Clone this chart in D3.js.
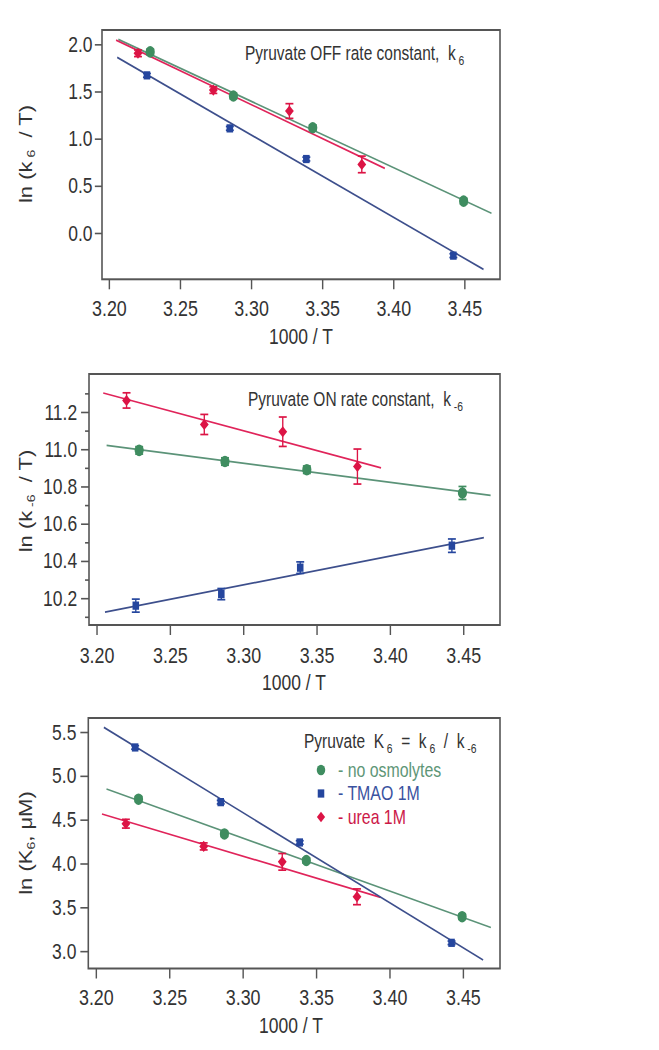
<!DOCTYPE html>
<html><head><meta charset="utf-8">
<script src="https://cdn.jsdelivr.net/npm/d3@7"></script>
<style>
body{margin:0;background:#fff}
svg{display:block}
text{font-family:"Liberation Sans",Arial,Helvetica,sans-serif;fill:#333;white-space:pre}
</style>
</head><body>
<svg id="chart" width="659" height="1050"></svg>
<script>
// ---------- data ----------
const xTicks = [3.20, 3.25, 3.30, 3.35, 3.40, 3.45];
const xGreen = [3.229, 3.2875, 3.3433, 3.4494];
const xBlue  = [3.2267, 3.2850, 3.3388, 3.4422];
const xRed   = [3.2204, 3.2734, 3.3269, 3.3778];

// panel 1: ln(k6/T)
const offGreen = [1.920, 1.452, 1.116, 0.338];
const offGreenErr = [0.03, 0.03, 0.03, 0.03];
const offBlue = [1.671, 1.109, 0.784, -0.240];
const offBlueErr = [0.02, 0.02, 0.02, 0.02];
const offRed = [1.905, 1.515, 1.293, 0.727];
const offRedErr = [0.035, 0.035, 0.078, 0.088];
const offGreenFit = [[3.2066, 2.053], [3.469, 0.209]];
const offBlueFit  = [[3.2058, 1.862], [3.4634, -0.386]];
const offRedFit   = [[3.2050, 2.045], [3.394, 0.685]];
const offYTicks = [0.0, 0.5, 1.0, 1.5, 2.0];

// panel 2: ln(k-6/T)
const onGreen = [10.994, 10.934, 10.890, 10.765];
const onGreenErr = [0.02, 0.02, 0.02, 0.035];
const onBlue = [10.160, 10.222, 10.364, 10.482];
const onBlueErr = [0.035, 0.03, 0.031, 0.036];
const onRed = [11.262, 11.133, 11.094, 10.907];
const onRedErr = [0.041, 0.054, 0.079, 0.094];
const onGreenFit = [[3.2068, 11.021], [3.4686, 10.752]];
const onBlueFit  = [[3.2057, 10.125], [3.4640, 10.525]];
const onRedFit   = [[3.2045, 11.302], [3.3939, 10.900]];
const onYTicks = [10.2, 10.4, 10.6, 10.8, 11.0, 11.2];
const onYMinor = [10.1, 10.3, 10.5, 10.7, 10.9, 11.1, 11.3];

// panel 3: ln(K6)
const eqGreen = [4.734, 4.337, 4.034, 3.393];
const eqGreenErr = [0.03, 0.03, 0.03, 0.03];
const eqBlue = [5.324, 4.700, 4.240, 3.095];
const eqBlueErr = [0.02, 0.02, 0.02, 0.02];
const eqRed = [4.454, 4.195, 4.019, 3.620];
const eqRedErr = [0.05, 0.04, 0.095, 0.09];
const eqGreenFit = [[3.2072, 4.850], [3.469, 3.270]];
const eqBlueFit  = [[3.2054, 5.553], [3.4637, 2.900]];
const eqRedFit   = [[3.2041, 4.565], [3.3938, 3.614]];
const eqYTicks = [3.0, 3.5, 4.0, 4.5, 5.0, 5.5];

const legendLabels = ["- no osmolytes", "- TMAO 1M", "- urea 1M"];

// ---------- styles ----------
// the figure is drawn in a wider frame and squeezed horizontally, as in the reference
const SX = 1.2594;
const C = {
  green: "#3f8d60", greenLine: "#5b9378", greenText: "#5e9677",
  blue: "#25469e", blueLine: "#3d4f8c", blueText: "#3a52a0",
  red: "#dc1445", redLine: "#e0245a", redText: "#cc1848",
  frame: "#555"
};

const svg = d3.select("#chart");
svg.append("rect").attr("width",659).attr("height",1050).attr("fill","#fff");
const root = svg.append("g").attr("transform", `scale(${1/SX},1)`);

const diamond = {
  draw(ctx, size) {
    const r = Math.sqrt(size) * 0.62;
    ctx.moveTo(0, -r); ctx.lineTo(r, 0); ctx.lineTo(0, r); ctx.lineTo(-r, 0); ctx.closePath();
  }
};

function addParts(textSel, parts, size, subSize, subDy) {
  parts.forEach(p => textSel.append("tspan")
    .attr("dy", p.sub ? subDy : (p.back ? -subDy : 0))
    .attr("font-size", p.sub ? subSize : size).text(p.t));
}

function panel(cfg) {
  const g = root.append("g");
  const x = d3.scaleLinear().domain(cfg.xDomain).range([cfg.left*SX, cfg.right*SX]);
  const y = d3.scaleLinear().domain(cfg.yDomain).range([cfg.bottom, cfg.top]);

  // x axis
  const xa = g.append("g").attr("transform", `translate(0,${cfg.bottom})`)
    .call(d3.axisBottom(x).tickValues(xTicks).tickSize(10).tickPadding(cfg.xPad).tickFormat(d3.format(".2f")));
  xa.select(".domain").remove();
  xa.selectAll("line").attr("stroke", C.frame).attr("stroke-width", 1.8);
  xa.selectAll("text").attr("font-size", 22.5).attr("fill", "#333");

  // y axis
  const ya = g.append("g").attr("transform", `translate(${cfg.left*SX},0)`)
    .call(d3.axisLeft(y).tickValues(cfg.yTicks).tickSize(cfg.yTickSize).tickPadding(cfg.yPad).tickFormat(d3.format(".1f")));
  ya.select(".domain").remove();
  ya.selectAll("line").attr("stroke", C.frame).attr("stroke-width", 1.6);
  ya.selectAll("text").attr("font-size", 22).attr("fill", "#333");
  if (cfg.yMinor) {
    const ym = g.append("g").attr("transform", `translate(${cfg.left*SX},0)`)
      .call(d3.axisLeft(y).tickValues(cfg.yMinor).tickSize(5).tickFormat(""));
    ym.select(".domain").remove();
    ym.selectAll("line").attr("stroke", C.frame).attr("stroke-width", 1.6);
  }
  g.selectAll(".tick text").attr("font-family", null);
  g.selectAll(".tick").attr("font-family", null);
  xa.attr("font-family", null); ya.attr("font-family", null);

  // frame
  g.append("rect").attr("x", cfg.left*SX).attr("y", cfg.top)
    .attr("width", (cfg.right-cfg.left)*SX).attr("height", cfg.bottom-cfg.top)
    .attr("fill", "none").attr("stroke", C.frame).attr("stroke-width", 2);

  const line = d3.line().x(d => x(d[0])).y(d => y(d[1]));
  cfg.series.forEach(s => {
    g.append("path").datum(s.fit).attr("d", line)
      .attr("fill", "none").attr("stroke", s.lineColor).attr("stroke-width", 1.7);
  });
  cfg.series.forEach(s => {
    const pts = s.xs.map((v, i) => ({x: v, y: s.ys[i], e: s.err[i]}));
    const eb = g.append("g").attr("stroke", s.color).attr("stroke-width", 1.7);
    pts.forEach(p => {
      eb.append("line").attr("x1", x(p.x)).attr("x2", x(p.x)).attr("y1", y(p.y - p.e)).attr("y2", y(p.y + p.e));
      [p.y - p.e, p.y + p.e].forEach(v => eb.append("line")
        .attr("x1", x(p.x) - 5).attr("x2", x(p.x) + 5).attr("y1", y(v)).attr("y2", y(v)));
    });
    g.selectAll(null).data(pts).enter().append("path")
      .attr("transform", d => `translate(${x(d.x)},${y(d.y)})`)
      .attr("d", d3.symbol().type(s.symbol).size(s.size))
      .attr("fill", s.color);
  });

  // labels
  g.append("text").attr("x", cfg.xLabelX*SX).attr("y", cfg.bottom + 65)
    .attr("text-anchor", "middle").attr("font-size", 22).text("1000 / T");
  const yl = g.append("text").attr("transform", `translate(${cfg.yLabelX*SX},${cfg.yLabelY}) rotate(-90)`)
    .attr("text-anchor", "middle").attr("font-size", 22);
  addParts(yl, cfg.yLabel, 22, 14, 4);
  if (cfg.title) {
    const t = g.append("text").attr("x", cfg.titleX*SX).attr("y", cfg.titleY).attr("font-size", 19.5);
    addParts(t, cfg.title, 19.5, 13, 5);
  }
  return {g, x, y};
}

const sGreen = (ys, err, fit) => ({xs: xGreen, ys, err, fit, color: C.green, lineColor: C.greenLine, symbol: d3.symbolCircle, size: 105});
const sBlue  = (ys, err, fit) => ({xs: xBlue, ys, err, fit, color: C.blue, lineColor: C.blueLine, symbol: d3.symbolSquare, size: 68});
const sRed   = (ys, err, fit) => ({xs: xRed, ys, err, fit, color: C.red, lineColor: C.redLine, symbol: diamond, size: 80});

panel({
  left: 102, right: 500, top: 30, bottom: 279.3,
  xDomain: [3.1951, 3.4750], yDomain: [-0.491, 2.152], xPad: 11,
  yTicks: offYTicks, yTickSize: 9, yPad: 3,
  series: [sGreen(offGreen, offGreenErr, offGreenFit), sRed(offRed, offRedErr, offRedFit), sBlue(offBlue, offBlueErr, offBlueFit)],
  xLabelX: 301,
  yLabelX: 32, yLabelY: 154,
  yLabel: [{t: "ln (k"}, {t: " 6", sub: true}, {t: "  / T)", back: true}],
  titleX: 245, titleY: 60,
  title: [{t: "Pyruvate OFF rate constant,  k"}, {t: " 6", sub: true}]
});

panel({
  left: 89, right: 500, top: 374, bottom: 625,
  xDomain: [3.1948, 3.4750], yDomain: [10.056, 11.404], xPad: 12,
  yTicks: onYTicks, yTickSize: 10, yPad: 5, yMinor: onYMinor,
  series: [sGreen(onGreen, onGreenErr, onGreenFit), sBlue(onBlue, onBlueErr, onBlueFit), sRed(onRed, onRedErr, onRedFit)],
  xLabelX: 294,
  yLabelX: 32, yLabelY: 501,
  yLabel: [{t: "ln (k"}, {t: " -6", sub: true}, {t: "  / T)", back: true}],
  titleX: 248, titleY: 406,
  title: [{t: "Pyruvate ON rate constant,  k"}, {t: " -6", sub: true}]
});

panel({
  left: 88.3, right: 500, top: 718, bottom: 968.5,
  xDomain: [3.1948, 3.4752], yDomain: [2.802, 5.660], xPad: 11,
  yTicks: eqYTicks, yTickSize: 10, yPad: 5,
  series: [sGreen(eqGreen, eqGreenErr, eqGreenFit), sRed(eqRed, eqRedErr, eqRedFit), sBlue(eqBlue, eqBlueErr, eqBlueFit)],
  xLabelX: 291,
  yLabelX: 32, yLabelY: 843,
  yLabel: [{t: "ln (K"}, {t: "6", sub: true}, {t: ", μM)", back: true}]
});

// legend
const lg = root.append("g");
const lt = lg.append("text").attr("x", 304*SX).attr("y", 748).attr("font-size", 19.5);
addParts(lt, [{t: "Pyruvate  K"}, {t: " 6", sub: true}, {t: "  =  k", back: true}, {t: " 6", sub: true},
  {t: "  /  k", back: true}, {t: " -6", sub: true}], 19.5, 13, 5);
const legendSymbols = [d3.symbolCircle, d3.symbolSquare, diamond];
const legendColors = [C.green, C.blue, C.red];
const legendTextColors = [C.greenText, C.blueText, C.redText];
const legendSizes = [90, 68, 70];
legendLabels.forEach((lab, i) => {
  const yy = 770 + i * 23.5;
  lg.append("path").attr("transform", `translate(${321*SX},${yy})`)
    .attr("d", d3.symbol().type(legendSymbols[i]).size(legendSizes[i])).attr("fill", legendColors[i]);
  lg.append("text").attr("x", 338*SX).attr("y", yy + 7).attr("font-size", 20)
    .style("fill", legendTextColors[i]).text(lab);
});
</script>
</body></html>
